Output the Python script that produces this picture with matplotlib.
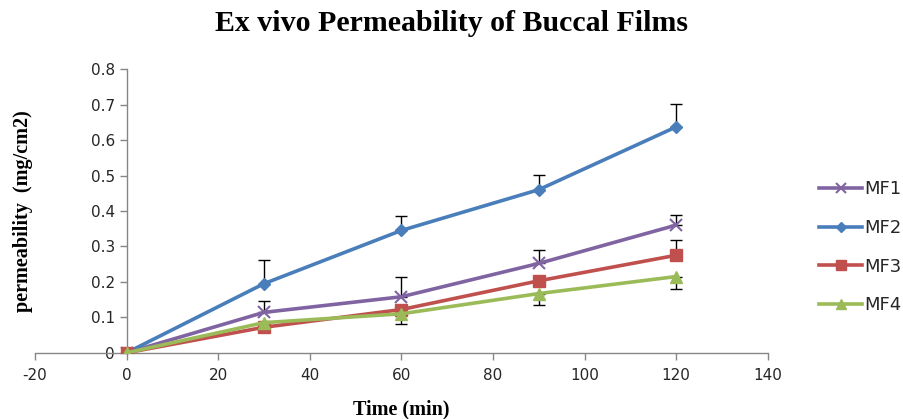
import numpy as np
import matplotlib
matplotlib.use('Agg')
import matplotlib.pyplot as plt

plt.rcParams['axes.unicode_minus'] = False
plt.rcParams['font.family'] = ['DejaVu Sans']

# Data
time = [0, 30, 60, 90, 120]
mf1 = [0.0, 0.114, 0.158, 0.252, 0.360]
mf2 = [0.0, 0.195, 0.345, 0.460, 0.637]
mf3 = [0.0, 0.072, 0.122, 0.203, 0.275]
mf4 = [0.0, 0.085, 0.110, 0.167, 0.215]

# error bars (upper / lower half-lengths)
mf1_err_up = [0.0, 0.032, 0.056, 0.038, 0.028]
mf2_err_up = [0.0, 0.067, 0.040, 0.041, 0.066]
mf3_err_up = [0.0, 0.0, 0.0, 0.0, 0.042]
mf4_err_dn = [0.0, 0.0, 0.030, 0.033, 0.036]

labels = ['MF1', 'MF2', 'MF3', 'MF4']
colors = ['#8064A2', '#4A7EBB', '#C0504D', '#9BBB59']

fig = plt.figure(figsize=(9.04, 4.19), dpi=100)
ax = fig.add_axes([0.0387, 0.158, 0.8105, 0.677])

zeros = [0.0] * len(time)
series = [
  (mf1, [zeros, mf1_err_up], 'x', 9, 1.5),
  (mf2, [zeros, mf2_err_up], 'D', 6.5, 1),
  (mf3, [zeros, mf3_err_up], 's', 9, 1),
  (mf4, [mf4_err_dn, zeros], '^', 9, 1),
]

handles = []
for (yy, err, mk, ms, mew), lab, col in zip(series, labels, colors):
  ax.errorbar(time, yy, yerr=err, fmt='none', ecolor='black', elinewidth=1,
              capsize=4, capthick=1, zorder=2)
  h, = ax.plot(time, yy, color=col, lw=2.6, marker=mk, ms=ms,
               mec=col, mfc=col, mew=mew, label=lab, zorder=3)
  handles.append(h)

ax.set_xlim(-20, 140)
ax.set_ylim(0, 0.8)
ax.set_xticks(np.arange(-20, 141, 20))
ax.set_yticks(np.arange(0, 0.81, 0.1))
ax.set_yticklabels(['0'] + ['%.1f' % v for v in np.arange(0.1, 0.81, 0.1)])

ax.spines['top'].set_visible(False)
ax.spines['right'].set_visible(False)
ax.spines['left'].set_position(('data', 0))
for s in ['left', 'bottom']:
  ax.spines[s].set_color('#868686')
  ax.spines[s].set_linewidth(1)
ax.tick_params(axis='both', colors='#868686', length=5, width=1,
               labelcolor='#262626', labelsize=11)
ax.tick_params(axis='x', pad=6)

ax.set_xlabel('Time (min)', fontfamily='Liberation Serif', fontweight='bold',
              fontsize=14.5)
ax.xaxis.set_label_coords(0.5, -0.165)
ax.set_ylabel('permeability  (mg/cm2)', fontfamily='Liberation Serif',
              fontweight='bold', fontsize=14.5)
ax.yaxis.set_label_coords(-0.003, 0.5)

fig.suptitle('Ex vivo Permeability of Buccal Films', fontfamily='Liberation Serif',
             fontweight='bold', fontsize=21.5, x=0.5, y=0.975)

leg = fig.legend(handles=handles, loc='center left', bbox_to_anchor=(0.888, 0.41),
                 frameon=False, fontsize=13, handlelength=2.4, labelspacing=1.15,
                 handletextpad=0.1, markerscale=0.8)
for t in leg.get_texts():
  t.set_color('#262626')

fig.savefig('out.png', dpi=100)
